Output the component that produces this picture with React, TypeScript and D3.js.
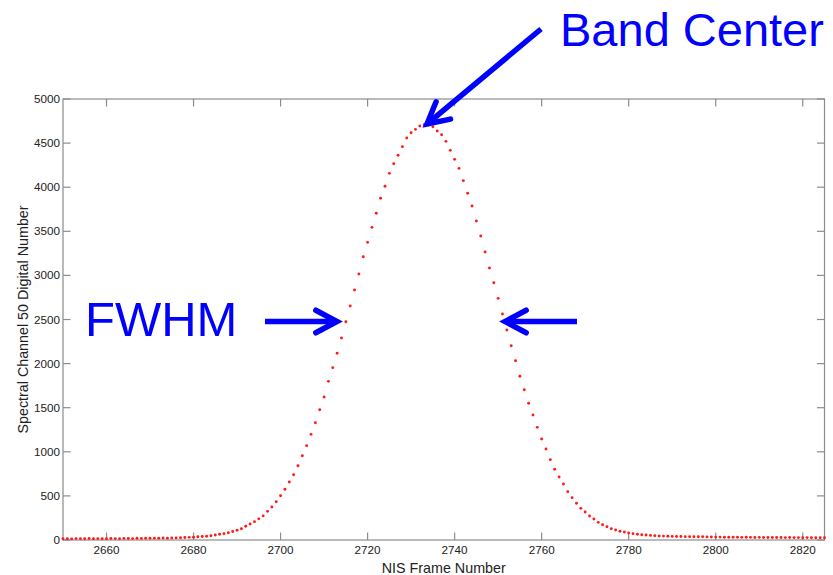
import React from "react";
import * as d3 from "d3";

// Spectral channel 50 response, one value per NIS frame starting at FIRST_FRAME
const FIRST_FRAME = 2650;
const digitalNumbers = [
  14, 15, 13, 16, 15, 14, 17, 15, 16, 14, 15, 17, 16, 15, 18, 17, 16, 19, 18, 20,
  19, 21, 20, 22, 21, 23, 24, 26, 28, 30,
  31, 36, 40, 43, 49, 57, 65, 72, 83, 97,
  110, 128, 156, 181, 208, 240, 274, 325, 374, 434,
  502, 575, 658, 740, 842, 955, 1070, 1198, 1330, 1477,
  1621, 1799, 1954, 2117, 2290, 2475, 2653, 2834, 3016, 3212,
  3375, 3545, 3704, 3874, 4010, 4157, 4266, 4362, 4460, 4558,
  4618, 4656, 4694, 4709, 4705, 4686, 4637, 4595, 4520, 4418,
  4316, 4214, 4074, 3931, 3787, 3617, 3447, 3265, 3084, 2917,
  2740, 2562, 2381, 2203, 2033, 1856, 1704, 1550, 1417, 1277,
  1145, 1032, 911, 802, 714, 635, 548, 480, 416, 359,
  317, 272, 238, 200, 173, 151, 128, 113, 100, 90,
  80, 72, 66, 60, 56, 52, 49, 46, 44, 42,
  41, 40, 39, 38, 38, 37, 36, 36, 35, 34,
  33, 33, 32, 32, 31, 31, 30, 31, 30, 29,
  30, 29, 28, 29, 28, 28, 27, 28, 27, 27,
  26, 27, 26, 26, 25, 26,
];

const xTicks = [2660, 2680, 2700, 2720, 2740, 2760, 2780, 2800, 2820];
const yTicks = [0, 500, 1000, 1500, 2000, 2500, 3000, 3500, 4000, 4500, 5000];
const xDomain = [2650, 2825];
const yDomain = [0, 5000];

const W = 833;
const H = 575;
const plot = { left: 63, right: 824.5, top: 99, bottom: 540 };

const FONT = "'Liberation Sans', Arial, Helvetica, sans-serif";
const AXIS_GRAY = "#8c8c8c";
const BLUE = "#0000ff";
const TICK_LEN = 7.5;

// Arrow with an open chevron head pointing at (x2, y2)
function Arrow({ x1, y1, x2, y2 }: { x1: number; y1: number; x2: number; y2: number }) {
  const ang = Math.atan2(y2 - y1, x2 - x1);
  const headLen = 24;
  const spread = (28 * Math.PI) / 180;
  const a1 = ang + Math.PI - spread;
  const a2 = ang + Math.PI + spread;
  const p1 = [x2 + headLen * Math.cos(a1), y2 + headLen * Math.sin(a1)];
  const p2 = [x2 + headLen * Math.cos(a2), y2 + headLen * Math.sin(a2)];
  const sw = 5.5;
  return (
    <g stroke={BLUE} strokeWidth={sw} fill="none" strokeLinecap="round" strokeLinejoin="miter">
      <line x1={x1} y1={y1} x2={x2 - 3 * Math.cos(ang)} y2={y2 - 3 * Math.sin(ang)} strokeLinecap="butt" />
      <polyline points={`${p1[0]},${p1[1]} ${x2},${y2} ${p2[0]},${p2[1]}`} />
    </g>
  );
}

export default function App() {
  const x = d3.scaleLinear().domain(xDomain).range([plot.left, plot.right]);
  const y = d3.scaleLinear().domain(yDomain).range([plot.bottom, plot.top]);

  const points = digitalNumbers.map((v, i) => ({ frame: FIRST_FRAME + i, value: v }));

  return (
    <svg
      width={W}
      height={H}
      style={{ position: "absolute", left: 0, top: 0, display: "block", background: "#fff" }}
      fontFamily={FONT}
    >
      <rect x={0} y={0} width={W} height={H} fill="#fff" />

      {/* axes box */}
      <rect
        x={plot.left}
        y={plot.top}
        width={plot.right - plot.left}
        height={plot.bottom - plot.top}
        fill="none"
        stroke={AXIS_GRAY}
        strokeWidth={1.2}
      />

      {/* x ticks (bottom and top, pointing inward) */}
      {xTicks.map((t) => (
        <g key={`xt${t}`}>
          <line x1={x(t)} x2={x(t)} y1={plot.bottom} y2={plot.bottom - TICK_LEN} stroke={AXIS_GRAY} strokeWidth={1.2} />
          <line x1={x(t)} x2={x(t)} y1={plot.top} y2={plot.top + TICK_LEN} stroke={AXIS_GRAY} strokeWidth={1.2} />
          <text x={x(t)} y={plot.bottom + 14} textAnchor="middle" fontSize={11.7} fill="#222">
            {t}
          </text>
        </g>
      ))}

      {/* y ticks (left and right, pointing inward) */}
      {yTicks.map((t) => (
        <g key={`yt${t}`}>
          <line x1={plot.left} x2={plot.left + TICK_LEN} y1={y(t)} y2={y(t)} stroke={AXIS_GRAY} strokeWidth={1.2} />
          <line x1={plot.right} x2={plot.right - TICK_LEN} y1={y(t)} y2={y(t)} stroke={AXIS_GRAY} strokeWidth={1.2} />
          <text x={plot.left - 3} y={y(t) + 4} textAnchor="end" fontSize={11.7} fill="#222">
            {t}
          </text>
        </g>
      ))}

      {/* axis titles */}
      <text x={(plot.left + plot.right) / 2} y={572.5} textAnchor="middle" fontSize={14.3} fill="#222">
        NIS Frame Number
      </text>
      <text
        transform={`translate(27.5, ${(plot.top + plot.bottom) / 2}) rotate(-90)`}
        textAnchor="middle"
        fontSize={14.3}
        fill="#222"
      >
        Spectral Channel 50 Digital Number
      </text>

      {/* data points */}
      <g fill="#ff1a1a">
        {points.map((p) => (
          <circle key={p.frame} cx={x(p.frame)} cy={y(p.value)} r={1.45} />
        ))}
      </g>

      {/* annotations */}
      <Arrow x1={541} y1={29} x2={427} y2={124} />
      <text x={560} y={45.5} fontSize={47} fill={BLUE}>
        Band Center
      </text>

      <text x={85} y={336} fontSize={49} fill={BLUE}>
        FWHM
      </text>
      <Arrow x1={265} y1={321.5} x2={337} y2={321.5} />
      <Arrow x1={577} y1={321.5} x2={505} y2={321.5} />
    </svg>
  );
}
